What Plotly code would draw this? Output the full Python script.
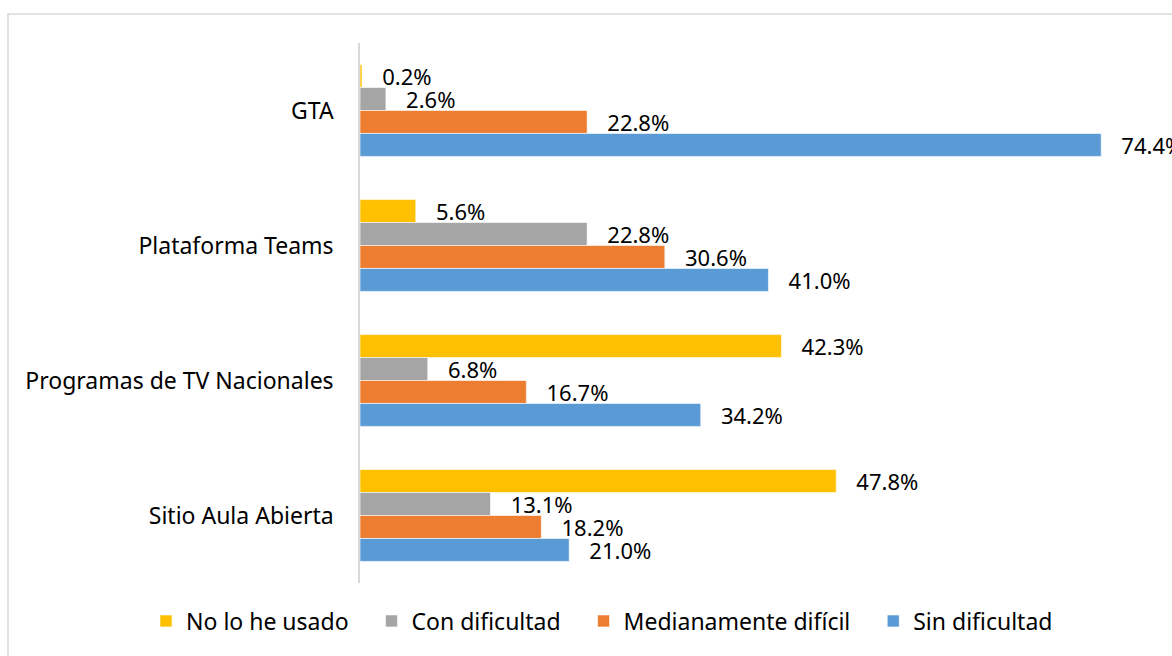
import plotly.graph_objects as go

categories = ["GTA", "Plataforma Teams", "Programas de TV Nacionales", "Sitio Aula Abierta"]
series_names = ["No lo he usado", "Con dificultad", "Medianamente difícil", "Sin dificultad"]
no_lo_he_usado = [0.2, 5.6, 42.3, 47.8]
con_dificultad = [2.6, 22.8, 6.8, 13.1]
medianamente_dificil = [22.8, 30.6, 16.7, 18.2]
sin_dificultad = [74.4, 41.0, 34.2, 21.0]
colors = ["#FFC000", "#A5A5A5", "#ED7D31", "#5B9BD5"]

values = [no_lo_he_usado, con_dificultad, medianamente_dificil, sin_dificultad]

FONT = "Noto Sans"
FS = 23
NB = "\u00a0"
fig = go.Figure()
for i, (name, vals, col) in enumerate(zip(series_names, values, colors)):
    pad = NB * 3 if i < len(series_names) - 1 else ""
    fig.add_trace(go.Bar(
        y=categories, x=vals, name=name + pad, orientation="h",
        marker=dict(color=col, line=dict(color="white", width=0.6)),
        text=[f"{v:.1f}%" for v in vals],
        texttemplate="   %{text}",
        textposition="outside",
        constraintext="none",
        textfont=dict(family=FONT, size=22, color="#000000"),
        cliponaxis=False,
    ))

W, H = 1172, 656
L, R, T, B = 360, 15, 43, 73
pw, ph = W - L - R, H - T - B

fig.update_layout(
    width=W, height=H,
    margin=dict(l=L, r=R, t=T, b=B, autoexpand=False),
    barmode="group", bargap=0.32, bargroupgap=0,
    plot_bgcolor="white", paper_bgcolor="white",
    font=dict(family=FONT, size=FS, color="#000000"),
    xaxis=dict(range=[0, 80], showgrid=False, showticklabels=False, zeroline=False,
               showline=False, ticks="", automargin=False),
    yaxis=dict(autorange="reversed", showline=True, linecolor="#D9D9D9", linewidth=1.5,
               ticks="", ticklabelstandoff=20, showgrid=False, automargin=False,
               tickfont=dict(family=FONT, size=FS, color="#000000")),
    legend=dict(orientation="h", xref="paper", x=(146 - L) / pw, xanchor="left",
                yref="paper", y=(T + ph - 621) / ph, yanchor="middle",
                font=dict(family=FONT, size=FS, color="#000000"),
                itemwidth=30, traceorder="normal"),
    shapes=[dict(type="rect", xref="paper", yref="paper",
                 x0=(8 - L) / pw, x1=(W + 10 - L) / pw,
                 y0=(T + ph - (H + 10)) / ph, y1=1 + (T - 14) / ph,
                 line=dict(color="#D9D9D9", width=1.5), fillcolor="rgba(0,0,0,0)",
                 layer="below")],
)

fig.write_html("out.html", config={"displayModeBar": False},
               post_script="document.body.style.margin='0';document.body.style.overflow='hidden';")
